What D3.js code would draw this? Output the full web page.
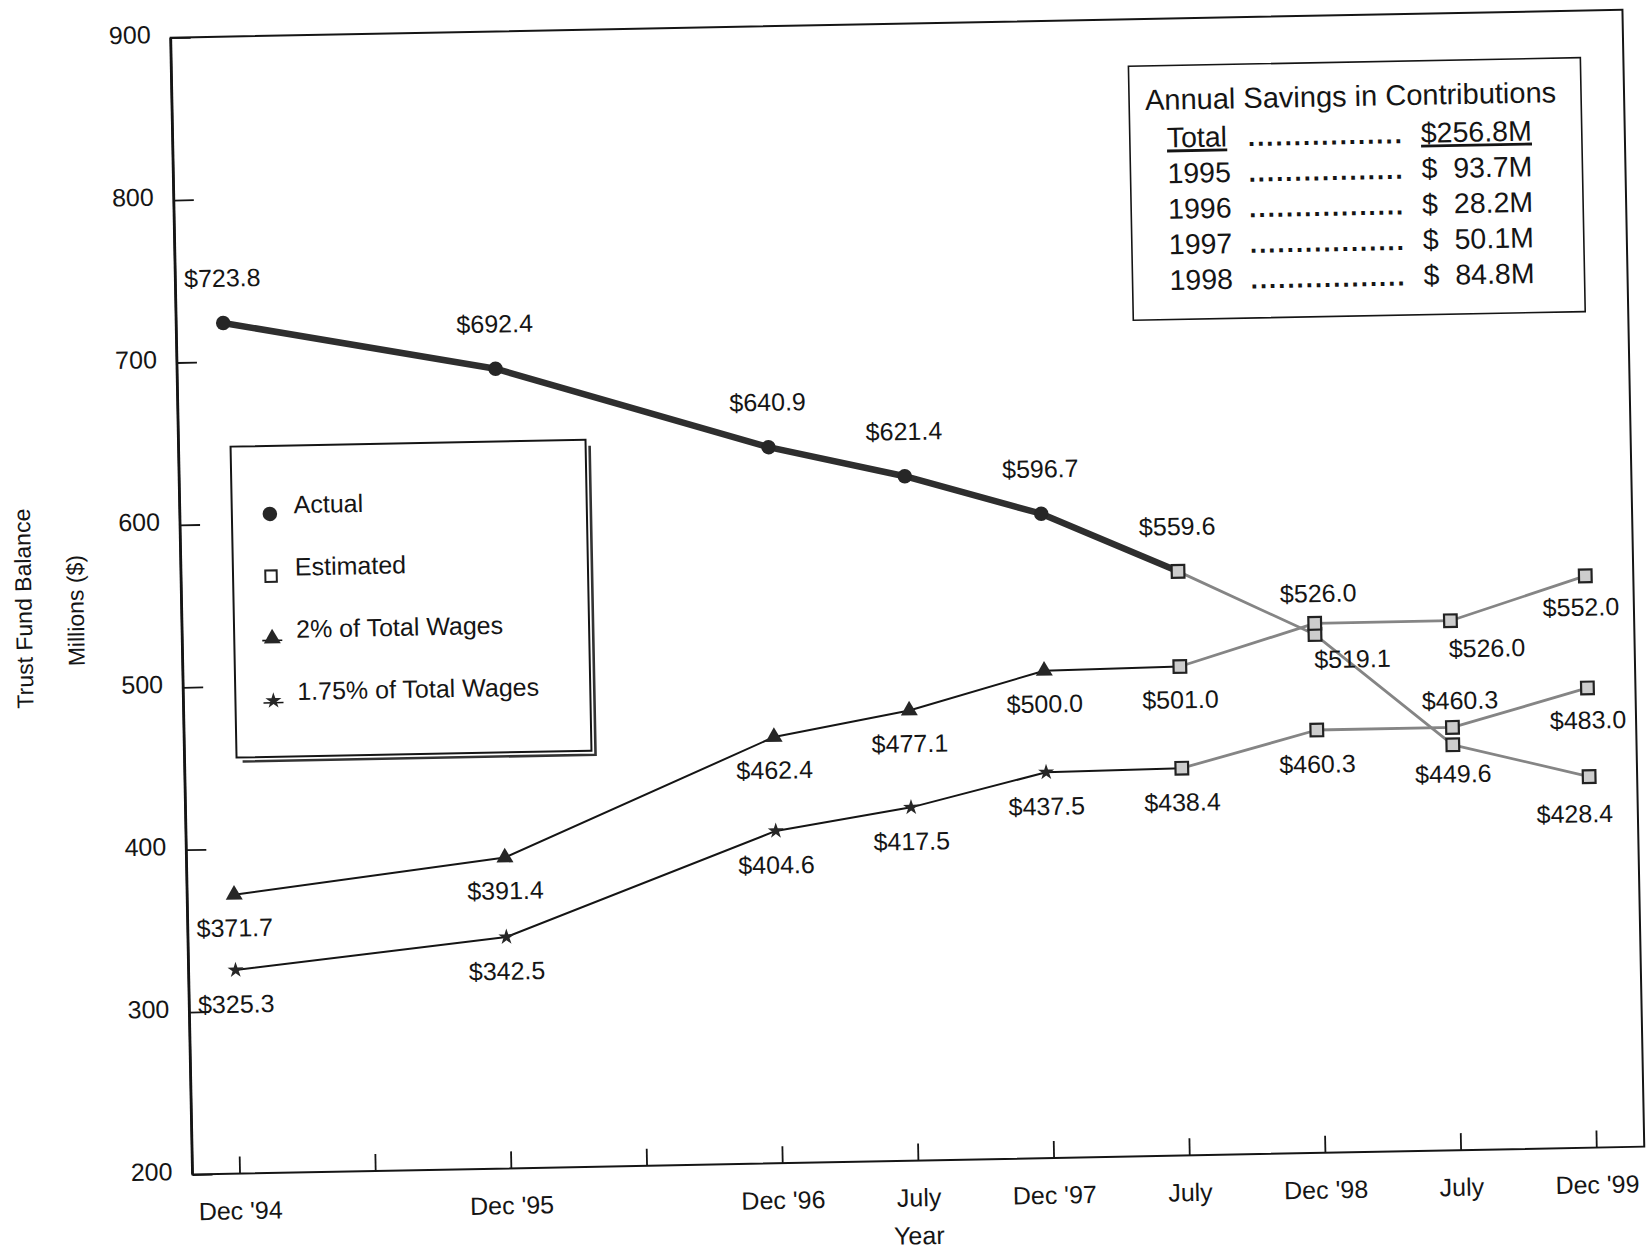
<!DOCTYPE html>
<html>
<head>
<meta charset="utf-8">
<script src="https://cdn.jsdelivr.net/npm/d3@7"></script>
<style>
  html, body { margin: 0; padding: 0; background: #fff; }
  svg { display: block; font-family: "Liberation Sans", Arial, Helvetica, sans-serif; }
</style>
</head>
<body>
<svg id="chart" width="1646" height="1251"></svg>
<script>
// ---- data -------------------------------------------------------------
const periods = ["Dec '94", "July '95", "Dec '95", "July '96", "Dec '96", "July '97",
                 "Dec '97", "July '98", "Dec '98", "July '99", "Dec '99"];
const tickLabels = ["Dec '94", "", "Dec '95", "", "Dec '96", "July",
                    "Dec '97", "July", "Dec '98", "July", "Dec '99"];
const yTicks = [200, 300, 400, 500, 600, 700, 800, 900];

const recordedPeriods  = ["Dec '94", "Dec '95", "Dec '96", "July '97", "Dec '97", "July '98"];
const projectedPeriods = ["July '98", "Dec '98", "July '99", "Dec '99"];

const actualValues      = [723.8, 692.4, 640.9, 621.4, 596.7, 559.6];
const actualProjected   = [559.6, 519.1, 449.6, 428.4];
const wages2Values      = [371.7, 391.4, 462.4, 477.1, 500.0, 501.0];
const wages2Projected   = [501.0, 526.0, 526.0, 552.0];
const wages175Values    = [325.3, 342.5, 404.6, 417.5, 437.5, 438.4];
const wages175Projected = [438.4, 460.3, 460.3, 483.0];

const legendLabels = ["Actual", "Estimated", "2% of Total Wages", "1.75% of Total Wages"];

const savingsTitle   = "Annual Savings in Contributions";
const savingsYears   = ["Total", "1995", "1996", "1997", "1998"];
const savingsAmounts = [256.8, 93.7, 28.2, 50.1, 84.8];

// ---- layout -----------------------------------------------------------
const W = 1452, H = 1137;           // plot frame
const origin = [170.7, 37.7];        // top-left corner of the frame on the page
const tilt = -1.1;                   // the whole sheet sits slightly askew

const svg = d3.select("#chart");
svg.append("rect").attr("width", 1646).attr("height", 1251).attr("fill", "#fff");

const g = svg.append("g")
  .attr("transform", `translate(${origin[0]},${origin[1]}) rotate(${tilt})`);

const x = d3.scalePoint(periods, [47, 1404]);
const y = d3.scaleLinear([200, 900], [H, 0]);

const ink = "#151515";

// ---- axes ---------------------------------------------------------------
const yAxis = g.append("g")
  .call(d3.axisLeft(y).tickValues(yTicks).tickSizeInner(-20).tickSizeOuter(0).tickPadding(20));
yAxis.select(".domain").remove();
yAxis.selectAll(".tick line").attr("stroke", ink).attr("stroke-width", 1.8);
yAxis.selectAll(".tick text")
  .attr("fill", ink).attr("font-size", 25).attr("font-family", null)
  .attr("y", -4).attr("dy", "0.35em");

const xAxis = g.append("g")
  .attr("transform", `translate(0,${H})`)
  .call(d3.axisBottom(x).tickFormat((d, i) => tickLabels[i]).tickSizeInner(-17).tickSizeOuter(0).tickPadding(28));
xAxis.select(".domain").remove();
xAxis.selectAll(".tick line").attr("stroke", ink).attr("stroke-width", 1.8);
xAxis.selectAll(".tick text")
  .attr("fill", ink).attr("font-size", 25).attr("font-family", null);

// frame
g.append("rect").attr("width", W).attr("height", H)
  .attr("fill", "none").attr("stroke", ink).attr("stroke-width", 2);
g.append("line").attr("x1", 0).attr("x2", 0).attr("y1", 0).attr("y2", H)
  .attr("stroke", ink).attr("stroke-width", 2.8);

// axis titles
g.append("text").attr("transform", "translate(-158,568) rotate(-90)")
  .attr("text-anchor", "middle").attr("dy", "0.35em")
  .attr("font-size", 23).attr("fill", ink).text("Trust Fund Balance");
g.append("text").attr("transform", "translate(-106,571) rotate(-90)")
  .attr("text-anchor", "middle").attr("dy", "0.35em")
  .attr("font-size", 23).attr("fill", ink).text("Millions ($)");
g.append("text").attr("x", x("July '97")).attr("y", 1212).attr("dy", "0.35em")
  .attr("text-anchor", "middle").attr("font-size", 25).attr("fill", ink).text("Year");

// ---- series -------------------------------------------------------------
const zip = (ps, vs) => ps.map((p, i) => ({ period: p, value: vs[i] }));

const series = [
  { key: "actual",   recorded: zip(recordedPeriods, actualValues),   projected: zip(projectedPeriods, actualProjected),
    symbol: d3.symbolCircle,   size: 165, stroke: "#2e2e2e", width: 6.5, labelDy: -45 },
  { key: "wages2",   recorded: zip(recordedPeriods, wages2Values),   projected: zip(projectedPeriods, wages2Projected),
    symbol: d3.symbolTriangle, size: 125, stroke: ink,    width: 2,   labelDy: 33 },
  { key: "wages175", recorded: zip(recordedPeriods, wages175Values), projected: zip(projectedPeriods, wages175Projected),
    symbol: d3.symbolStar,     size: 80,  stroke: ink,    width: 2,   labelDy: 34 }
];

// label placement for crowded estimate points
const labelNudge = {
  "actual|Dec '98":   [37, 25],
  "actual|July '99":  [0, 29],
  "actual|Dec '99":   [-15, 37],
  "wages2|Dec '98":   [4, -30],
  "wages2|July '99":  [36, 28],
  "wages2|Dec '99":   [-5, 31],
  "wages175|Dec '98": [0, 34],
  "wages175|July '99":[8, -27],
  "wages175|Dec '99": [0, 32]
};

const line = d3.line().x(d => x(d.period)).y(d => y(d.value));
const estimateStroke = "#858585";

// estimated lines beneath
series.forEach(s => {
  g.append("path").datum(s.projected)
    .attr("d", line).attr("fill", "none")
    .attr("stroke", estimateStroke).attr("stroke-width", 2.8)
    .attr("stroke-linejoin", "round");
});
// recorded lines
series.forEach(s => {
  g.append("path").datum(s.recorded)
    .attr("d", line).attr("fill", "none")
    .attr("stroke", s.stroke).attr("stroke-width", s.width)
    .attr("stroke-linejoin", "round").attr("stroke-linecap", "round");
});

// markers
const squareSym = d3.symbol(d3.symbolSquare, 160);
series.forEach(s => {
  const sym = d3.symbol(s.symbol, s.size);
  g.append("g").selectAll("path")
    .data(s.recorded.filter(d => !projectedPeriods.includes(d.period)))
    .join("path")
    .attr("transform", d => `translate(${x(d.period)},${y(d.value)})`)
    .attr("d", sym).attr("fill", "#262626");
  g.append("g").selectAll("path")
    .data(s.projected)
    .join("path")
    .attr("transform", d => `translate(${x(d.period)},${y(d.value)})`)
    .attr("d", squareSym).attr("fill", "#cdcdcd")
    .attr("stroke", "#222").attr("stroke-width", 2.2);
});

// value labels
const fmt = d3.format(".1f");
series.forEach(s => {
  const pts = s.recorded.concat(s.projected.slice(1));
  g.append("g").selectAll("text")
    .data(pts)
    .join("text")
    .attr("x", d => x(d.period) + (labelNudge[`${s.key}|${d.period}`] || [0, s.labelDy])[0])
    .attr("y", d => y(d.value) + (labelNudge[`${s.key}|${d.period}`] || [0, s.labelDy])[1])
    .attr("dy", "0.35em").attr("text-anchor", "middle")
    .attr("font-size", 25).attr("fill", ink)
    .text(d => "$" + fmt(d.value));
});

// ---- legend -------------------------------------------------------------
const lg = g.append("g").attr("transform", "translate(52,410)");
const lw = 355, lh = 311;
lg.append("path")
  .attr("d", `M${lw + 4},6 V${lh + 4} H6`)
  .attr("fill", "none").attr("stroke", "#333").attr("stroke-width", 2.6);
lg.append("rect").attr("width", lw).attr("height", lh)
  .attr("fill", "#fff").attr("stroke", ink).attr("stroke-width", 2);

const legendSymbols = [
  { sym: d3.symbol(d3.symbolCircle, 165), fill: "#262626", stroke: "none", tick: false },
  { sym: d3.symbol(d3.symbolSquare, 130), fill: "#fff", stroke: "#222", tick: false },
  { sym: d3.symbol(d3.symbolTriangle, 125), fill: "#262626", stroke: "none", tick: true },
  { sym: d3.symbol(d3.symbolStar, 80), fill: "#262626", stroke: "none", tick: true }
];
legendLabels.forEach((label, i) => {
  const row = lg.append("g").attr("transform", `translate(38,${68 + i * 62.3})`);
  const ls = legendSymbols[i];
  if (ls.tick) {
    row.append("line").attr("x1", -10).attr("x2", 10).attr("y1", 2).attr("y2", 2)
      .attr("stroke", ink).attr("stroke-width", 1.6);
  }
  row.append("path").attr("d", ls.sym).attr("fill", ls.fill)
    .attr("stroke", ls.stroke).attr("stroke-width", 2);
  row.append("text").attr("x", 24).attr("y", -9).attr("dy", "0.35em")
    .attr("font-size", 25).attr("fill", ink).text(label);
});

// ---- savings box --------------------------------------------------------
const sb = g.append("g").attr("transform", "translate(957,47)");
sb.append("rect").attr("width", 452).attr("height", 254)
  .attr("fill", "#fff").attr("stroke", ink).attr("stroke-width", 1.6);
sb.append("text").attr("x", 16).attr("y", 44)
  .attr("font-size", 29).attr("fill", ink).text(savingsTitle);
savingsYears.forEach((yr, i) => {
  const by = 82 + i * 35.6;
  const row = sb.append("g");
  row.append("text").attr("x", 37).attr("y", by)
    .attr("font-size", 28.5).attr("fill", ink)
    .style("text-decoration", i === 0 ? "underline" : null)
    .text(yr);
  row.append("text").attr("x", 118).attr("y", by)
    .attr("font-size", 26).attr("font-weight", "bold").attr("fill", ink)
    .attr("textLength", 154).attr("lengthAdjust", "spacing")
    .text(".".repeat(17));
  if (i === 0) {
    row.append("text").attr("x", 402).attr("y", by)
      .attr("text-anchor", "end")
      .attr("font-size", 28.5).attr("fill", ink)
      .style("text-decoration", "underline")
      .text(`$${fmt(savingsAmounts[i])}M`);
  } else {
    row.append("text").attr("x", 291).attr("y", by)
      .attr("font-size", 28.5).attr("fill", ink).text("$");
    row.append("text").attr("x", 402).attr("y", by)
      .attr("text-anchor", "end")
      .attr("font-size", 28.5).attr("fill", ink)
      .text(`${fmt(savingsAmounts[i])}M`);
  }
});
</script>
</body>
</html>
